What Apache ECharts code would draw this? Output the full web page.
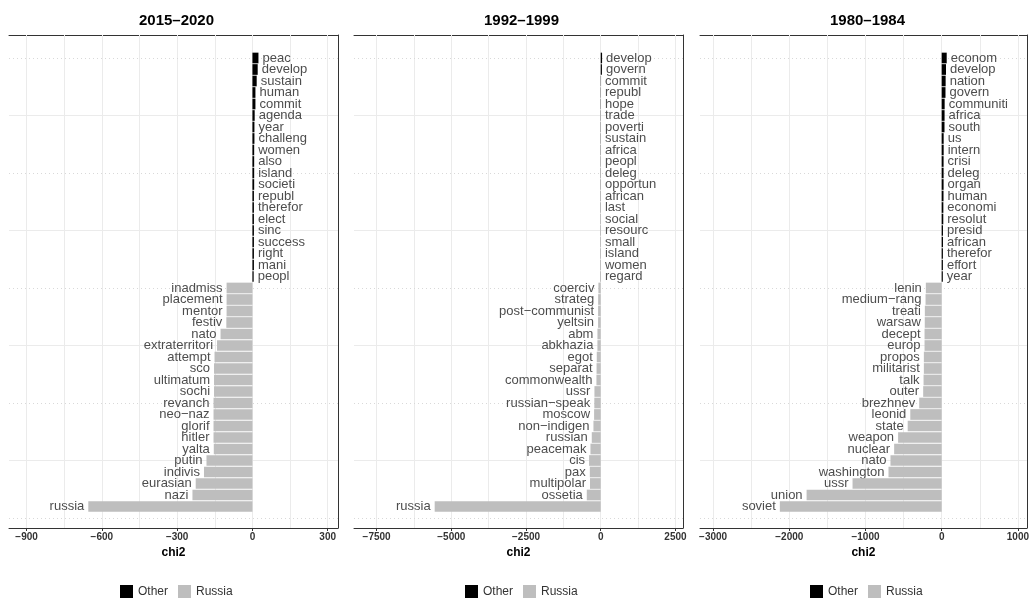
<!DOCTYPE html>
<html>
<head>
<meta charset="utf-8">
<script src="https://cdn.jsdelivr.net/npm/echarts@6/dist/echarts.min.js"></script>
<style>html,body{margin:0;padding:0;background:#fff}#c{width:1032px;height:600px}</style>
</head>
<body>
<div id="c"></div>
<script>
// ---- Data ----
const panelTitles = ['2015–2020', '1992–1999', '1980–1984'];

const other1Words = ['peac','develop','sustain','human','commit','agenda','year','challeng','women','also','island','societi','republ','therefor','elect','sinc','success','right','mani','peopl'];
const other1Vals  = [24,21,17,12,12,9,8,8,7,7,7,7,6,6,6,6,6,6,6,5];
const russia1Words = ['inadmiss','placement','mentor','festiv','nato','extraterritori','attempt','sco','ultimatum','sochi','revanch','neo−naz','glorif','hitler','yalta','putin','indivis','eurasian','nazi','russia'];
const russia1Vals  = [-103,-103,-103,-104,-127,-141,-151,-153,-153,-153,-155,-155,-155,-155,-154,-183,-193,-226,-239,-654];

const other2Words = ['develop','govern','commit','republ','hope','trade','poverti','sustain','africa','peopl','deleg','opportun','african','last','social','resourc','small','island','women','regard'];
const other2Vals  = [45,40,10,9,9,8,8,8,8,7,7,7,7,7,6,6,6,6,6,6];
const russia2Words = ['coerciv','strateg','post−communist','yeltsin','abm','abkhazia','egot','separat','commonwealth','ussr','russian−speak','moscow','non−indigen','russian','peacemak','cis','pax','multipolar','ossetia','russia'];
const russia2Vals  = [-78,-87,-88,-89,-110,-111,-133,-140,-144,-211,-215,-222,-244,-300,-344,-390,-365,-360,-467,-5557];

const other3Words = ['econom','develop','nation','govern','communiti','africa','south','us','intern','crisi','deleg','organ','human','economi','resolut','presid','african','therefor','effort','year'];
const other3Vals  = [66,57,52,50,39,38,37,26,26,25,25,25,24,22,21,17,17,16,16,15];
const russia3Words = ['lenin','medium−rang','treati','warsaw','decept','europ','propos','militarist','talk','outer','brezhnev','leonid','state','weapon','nuclear','nato','washington','ussr','union','soviet'];
const russia3Vals  = [-208,-212,-221,-222,-225,-225,-234,-234,-238,-243,-295,-412,-446,-572,-624,-672,-698,-1170,-1773,-2124];

const xMajorTicks = [[-900,-600,-300,0,300],[-7500,-5000,-2500,0,2500],[-3000,-2000,-1000,0,1000]];
const xMinorTicks = [[-750,-450,-150,150],[-6250,-3750,-1250,1250],[-2500,-1500,-500,500]];
const xRanges = [[-970,341],[-8257,2753],[-3172,1118]];
const yMajorLines = [5,15,25,35];
const yMinorLines = [0,10,20,30,40];
const yRange = [-0.87, 42.0];

// ---- Layout ----
const panels = [
  {other:[other1Words,other1Vals], russia:[russia1Words,russia1Vals]},
  {other:[other2Words,other2Vals], russia:[russia2Words,russia2Vals]},
  {other:[other3Words,other3Vals], russia:[russia3Words,russia3Vals]}
];
const gridLefts = [9, 354, 700];
const gridWidth = 329;
const legendLefts = [115, 460, 805];
const FONT = 'Liberation Sans';

function makeRender(words){
  return function(params, api){
    const v = api.value(0), p = api.value(1);
    const a = api.coord([0, p]);
    const b = api.coord([v, p]);
    const h = api.size([0, 0.93])[1];
    const x = Math.min(a[0], b[0]);
    const w = Math.abs(b[0] - a[0]);
    const neg = v < 0;
    return {
      type: 'group',
      children: [
        {type:'rect', shape:{x:x, y:a[1]-h/2, width:w, height:h}, style:{fill: api.visual('color')}},
        {type:'text', x: neg ? x - 4 : x + w + 4, y: a[1],
         style:{text: words[params.dataIndex], align: neg ? 'right':'left', verticalAlign:'middle',
                fill:'#4d4d4d', fontSize:13, fontFamily: FONT}}
      ]
    };
  };
}
const minus = v => String(v).replace('-', '\u2212');

const option = {
  animation: false,
  backgroundColor: '#fff',
  title: [], grid: [], xAxis: [], yAxis: [], series: [], legend: []
};

panels.forEach((pn, i) => {
  const cx = gridLefts[i] + gridWidth/2;
  option.title.push({text: panelTitles[i], left: cx - 2, top: 8, textAlign: 'center',
    textStyle:{fontSize:15, fontWeight:'bold', color:'#000', fontFamily: FONT}});
  option.grid.push({left: gridLefts[i], width: gridWidth, top: 35, bottom: 72, containLabel: false});
  option.xAxis.push({
    type:'value', gridIndex:i, min:xRanges[i][0], max:xRanges[i][1], position:'bottom',
    name:'chi2', nameLocation:'middle', nameGap:17,
    nameTextStyle:{fontSize:12, fontWeight:'bold', color:'#000', fontFamily: FONT},
    axisLine:{show:true, onZero:false, lineStyle:{color:'#333', width:1}},
    axisTick:{show:true, customValues: xMajorTicks[i], length:3, lineStyle:{color:'#333'}},
    axisLabel:{customValues: xMajorTicks[i], formatter: minus, fontSize:10, fontWeight:'bold', color:'#333', margin:4, fontFamily: FONT},
    splitLine:{show:false}
  });
  option.xAxis.push({
    type:'value', gridIndex:i, min:xRanges[i][0], max:xRanges[i][1], position:'top',
    axisLine:{show:true, onZero:false, lineStyle:{color:'#333', width:1}},
    axisTick:{show:false}, axisLabel:{show:false}, splitLine:{show:false}
  });
  option.yAxis.push({
    type:'value', gridIndex:i, min:yRange[0], max:yRange[1], position:'right',
    axisLine:{show:true, onZero:false, lineStyle:{color:'#333', width:1}},
    axisTick:{show:false}, axisLabel:{show:false}, splitLine:{show:false}
  });
  const xi = i*2;
  const lineData = [];
  xMajorTicks[i].concat(xMinorTicks[i]).forEach(v => lineData.push({xAxis:v, lineStyle:{color:'#ebebeb', width:1, type:'solid'}}));
  yMajorLines.forEach(v => lineData.push({yAxis:v, lineStyle:{color:'#ebebeb', width:1, type:'solid'}}));
  yMinorLines.forEach(v => lineData.push({yAxis:v, lineStyle:{color:'#d9d9d9', width:1, type:[1,3]}}));
  option.series.push({
    type:'line', xAxisIndex: xi, yAxisIndex: i, data: [], silent:true, z:0,
    markLine:{silent:true, symbol:['none','none'], label:{show:false}, z:1, animation:false, data: lineData}
  });
  const [ow, ov] = pn.other;
  const [rw, rv] = pn.russia;
  option.series.push({
    name:'Other', type:'custom', xAxisIndex: xi, yAxisIndex: i, z:3, clip:false,
    itemStyle:{color:'#000'},
    data: ov.map((v, k) => [v, 40 - k]),
    renderItem: makeRender(ow)
  });
  option.series.push({
    name:'Russia', type:'custom', xAxisIndex: xi, yAxisIndex: i, z:3, clip:false,
    itemStyle:{color:'#bebebe'},
    data: rv.map((v, k) => [v, 20 - k]),
    renderItem: makeRender(rw)
  });
  option.legend.push({
    data:['Other','Russia'], left: legendLefts[i], top: 580, icon:'rect',
    itemWidth:13, itemHeight:13, itemGap:10, selectedMode:false,
    textStyle:{fontSize:12, color:'#333', fontFamily: FONT}
  });
});

const chart = echarts.init(document.getElementById('c'), null, {renderer:'canvas'});
chart.setOption(option);
</script>
</body>
</html>
